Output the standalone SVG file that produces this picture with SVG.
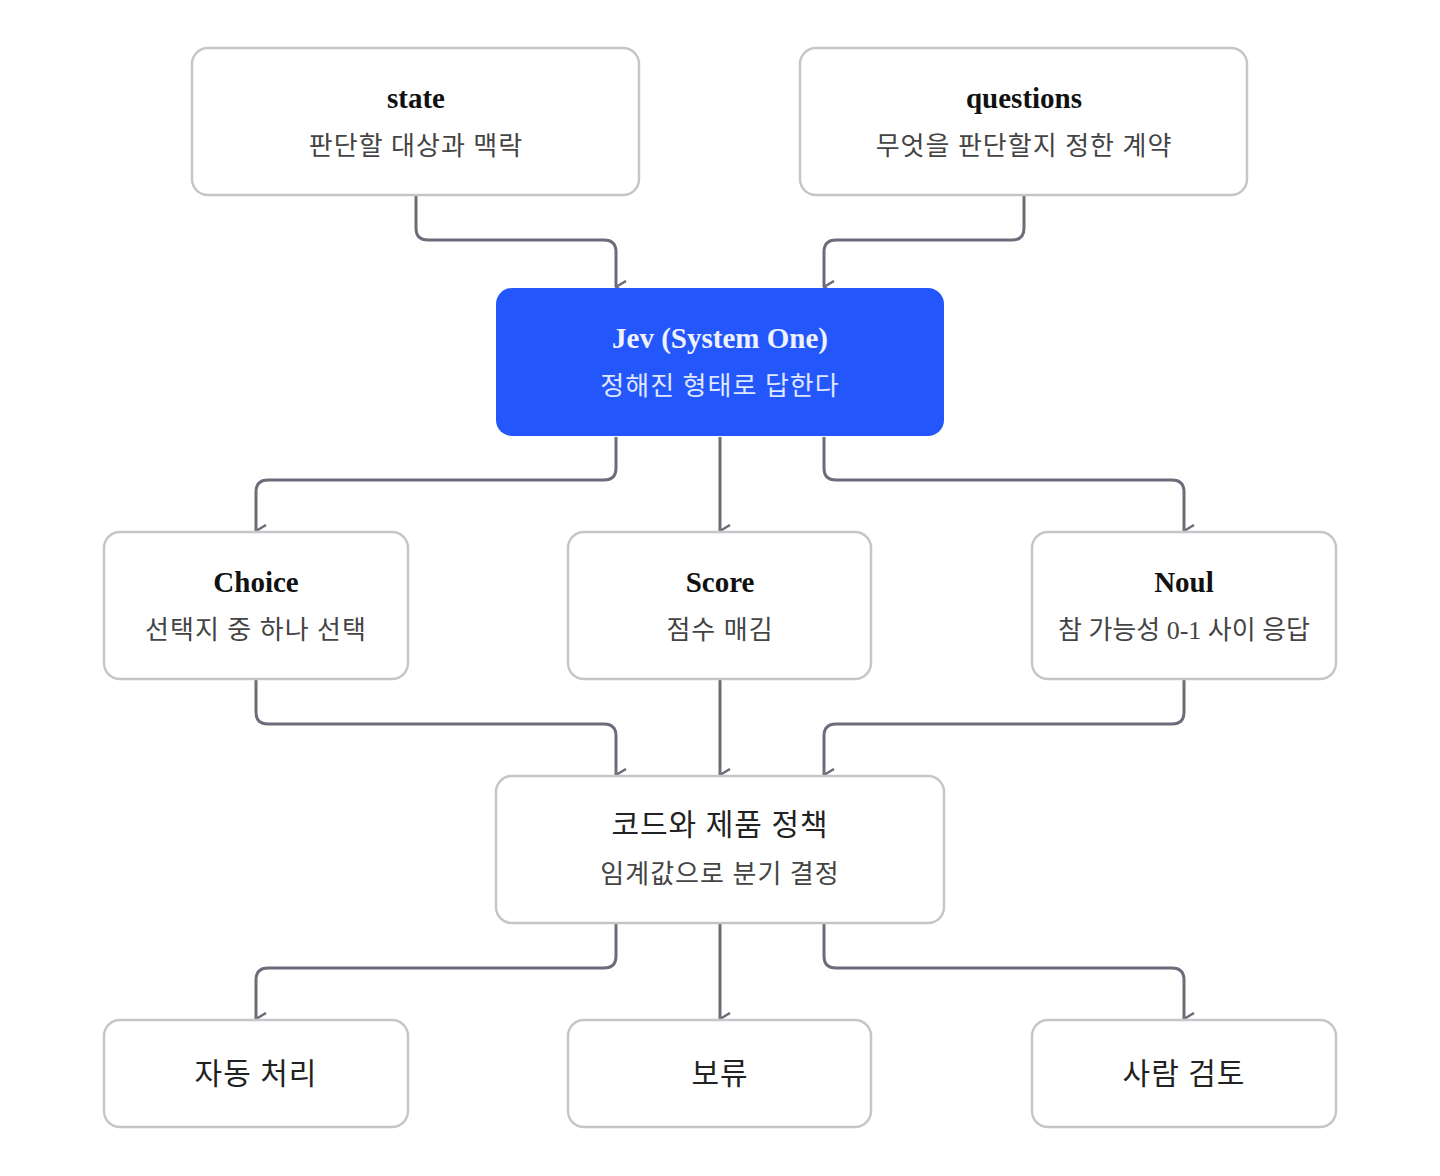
<svg xmlns="http://www.w3.org/2000/svg" width="1440" height="1176" viewBox="0 0 1440 1176">
<style>
.n{fill:#fff;stroke:#c6c6c8;stroke-width:2.5}
.t{font-family:"Liberation Serif","Noto Sans CJK KR",serif;font-weight:bold;font-size:29px;fill:#111;text-anchor:middle}
.s{font-family:"Liberation Serif","Noto Sans CJK KR",serif;font-size:26px;fill:#444;text-anchor:middle;letter-spacing:1px}
.b{font-family:"Liberation Serif","Noto Sans CJK KR",serif;font-size:30px;fill:#222;text-anchor:middle;letter-spacing:1px}
.e{fill:none;stroke:#6b6e7a;stroke-width:3;marker-end:url(#a)}
</style>
<defs><marker id="a" viewBox="0 0 14 12" refX="7" refY="11" markerWidth="14" markerHeight="12" markerUnits="userSpaceOnUse" orient="auto-start-reverse"><path d="M1 1L7 11L13 1" fill="none" stroke="#6b6e7a" stroke-width="2.5"/></marker></defs>
<g id="connectors">
<path class="e" d="M416 196V228Q416 240 428 240H604Q616 240 616 252V287" transform=""/>
<path class="e" d="M1024 196V228Q1024 240 1012 240H836Q824 240 824 252V287"/>
<path class="e" d="M616 437V468Q616 480 604 480H268Q256 480 256 492V531"/>
<path class="e" d="M720 437V531"/>
<path class="e" d="M824 437V468Q824 480 836 480H1172Q1184 480 1184 492V531"/>
<path class="e" d="M256 680V712Q256 724 268 724H604Q616 724 616 736V775"/>
<path class="e" d="M720 680V775"/>
<path class="e" d="M1184 680V712Q1184 724 1172 724H836Q824 724 824 736V775"/>
<path class="e" d="M616 924V956Q616 968 604 968H268Q256 968 256 980V1019"/>
<path class="e" d="M720 924V1019"/>
<path class="e" d="M824 924V956Q824 968 836 968H1172Q1184 968 1184 980V1019"/>
</g>
<g id="state"><rect class="n" x="192" y="48" width="447" height="147" rx="16"/><text class="t" x="416" y="108">state</text><text class="s" x="416" y="155">판단할 대상과 맥락</text></g>
<g id="questions"><rect class="n" x="800" y="48" width="447" height="147" rx="16"/><text class="t" x="1024" y="108">questions</text><text class="s" x="1024" y="155">무엇을 판단할지 정한 계약</text></g>
<g id="jev"><rect x="496" y="288" width="448" height="148" rx="16" fill="#2457fb"/><text class="t" x="720" y="348" fill="#eef2ff" style="fill:#eef2ff">Jev (System One)</text><text class="s" x="720" y="395" style="fill:#dfe6ff">정해진 형태로 답한다</text></g>
<g id="choice"><rect class="n" x="104" y="532" width="304" height="147" rx="16"/><text class="t" x="256" y="592">Choice</text><text class="s" x="256" y="639">선택지 중 하나 선택</text></g>
<g id="score"><rect class="n" x="568" y="532" width="303" height="147" rx="16"/><text class="t" x="720" y="592">Score</text><text class="s" x="720" y="639">점수 매김</text></g>
<g id="noul"><rect class="n" x="1032" y="532" width="304" height="147" rx="16"/><text class="t" x="1184" y="592">Noul</text><text class="s" x="1184" y="639" style="letter-spacing:0">참 가능성 0-1 사이 응답</text></g>
<g id="policy"><rect class="n" x="496" y="776" width="448" height="147" rx="16"/><text class="b" x="720" y="835">코드와 제품 정책</text><text class="s" x="720" y="883">임계값으로 분기 결정</text></g>
<g id="auto"><rect class="n" x="104" y="1020" width="304" height="107" rx="16"/><text class="b" x="256" y="1084">자동 처리</text></g>
<g id="hold"><rect class="n" x="568" y="1020" width="303" height="107" rx="16"/><text class="b" x="720" y="1084">보류</text></g>
<g id="review"><rect class="n" x="1032" y="1020" width="304" height="107" rx="16"/><text class="b" x="1184" y="1084">사람 검토</text></g>
</svg>
